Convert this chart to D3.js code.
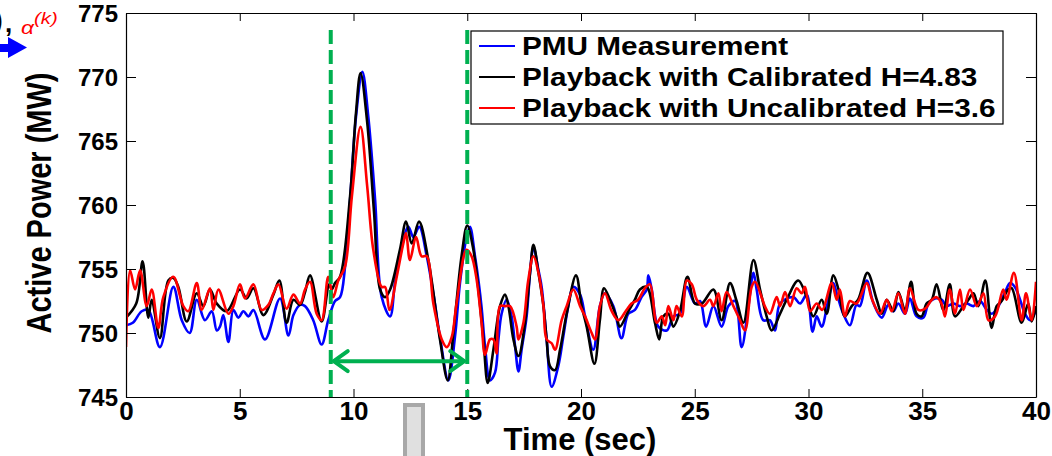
<!DOCTYPE html>
<html>
<head>
<meta charset="utf-8">
<script src="https://cdn.jsdelivr.net/npm/d3@7"></script>
<style>
  body { margin: 0; background: #fff; }
  svg { display: block; }
  text { font-family: "Liberation Sans", Arial, sans-serif; font-weight: bold; }
</style>
</head>
<body>
<div id="chart"></div>
<script>
// Axis ticks
const timeTicks = [0, 5, 10, 15, 20, 25, 30, 35, 40];
const powerTicks = [745, 750, 755, 760, 765, 770, 775];

// Series: [time (sec), active power (MW)]
const pmuMeasurement = [
  [0,750.6],[0.3,750.8],[0.69,751.7],[0.98,751.8],[1.49,748.9],[2.08,753.6],[2.45,751.0],[2.8,750.0],
  [3.11,752.6],[3.47,751.0],[3.77,751.7],[3.99,750.2],[4.13,750.5],[4.28,751.4],[4.5,749.3],[4.72,751.8],
  [4.94,751.2],[5.16,751.7],[5.38,751.3],[5.6,751.8],[6.11,749.5],[6.77,752.7],[7.14,749.8],[7.36,751.4],
  [7.65,752.2],[7.87,752.1],[8.23,751.0],[8.6,749.1],[8.89,751.0],[9.19,752.5],[9.41,752.8],[9.63,755.2],
  [9.85,760.4],[10.11,766.9],[10.39,770.4],[10.65,766.9],[10.95,760.4],[11.24,752.8],[11.61,751.3],[11.82,753.9],
  [12.04,756.0],[12.41,758.3],[12.63,757.5],[12.89,758.3],[13.22,756.0],[13.51,753.1],[13.8,749.7],[14.17,746.3],
  [14.46,749.7],[14.68,753.9],[14.97,757.5],[15.12,758.3],[15.34,756.0],[15.5,754.0],[15.63,752.0],[15.78,749.0],
  [16.0,746.3],[16.22,746.9],[16.37,749.5],[16.51,751.5],[16.73,752.6],[16.95,751.3],[17.1,749.0],[17.25,747.0],
  [17.39,748.7],[17.61,751.3],[17.76,754.7],[17.91,756.7],[18.13,754.9],[18.27,753.6],[18.49,749.5],[18.71,745.8],
  [19.0,747.4],[19.22,749.7],[19.44,752.1],[19.66,753.6],[19.96,753.0],[20.18,751.3],[20.54,748.7],[20.83,752.1],
  [21.05,753.1],[21.42,752.1],[21.78,749.6],[22.08,751.5],[22.37,751.8],[22.66,752.8],[22.89,753.4],[22.96,754.5],
  [23.11,753.4],[23.4,750.5],[23.77,750.2],[24.06,751.3],[24.35,751.5],[24.65,753.6],[25.01,752.3],[25.23,752.5],
  [25.5,750.5],[25.82,752.1],[26.18,750.5],[26.48,752.1],[26.77,752.5],[27.06,748.9],[27.36,752.1],[27.58,754.7],
  [27.72,753.4],[28.01,751.0],[28.3,751.0],[28.53,750.2],[28.75,752.3],[29.33,752.8],[29.63,752.3],[29.92,753.0],
  [30.18,750.1],[30.36,751.3],[30.58,750.5],[30.87,752.6],[31.09,753.9],[31.24,753.1],[31.53,751.5],[31.82,750.6],
  [32.11,752.2],[32.26,752.1],[32.56,754.1],[32.86,752.3],[33.22,751.2],[33.51,752.2],[33.73,751.7],[33.95,752.3],
  [34.24,751.5],[34.46,752.7],[34.75,751.3],[35.05,751.2],[35.27,752.3],[35.56,752.7],[35.85,752.6],[36.07,752.1],
  [36.37,752.3],[36.66,752.1],[36.95,752.3],[37.25,752.1],[37.54,752.5],[37.84,751.8],[38.05,751.5],[38.35,752.1],
  [38.64,753.2],[38.86,753.9],[39.07,753.6],[39.3,752.6],[39.52,751.5],[39.74,751.0],[40,751.8]
];

const calibratedPlayback = [
  [0,751.2],[0.45,752.3],[0.73,755.6],[0.98,751.2],[1.13,752.6],[1.49,749.6],[1.86,754.1],[2.08,754.3],
  [2.3,753.6],[2.67,750.9],[3.11,753.1],[3.4,752.1],[3.69,753.4],[3.99,752.3],[4.43,751.7],[5.01,753.4],
  [5.3,752.7],[5.6,753.5],[6.04,751.4],[6.48,753.0],[6.74,754.1],[7.06,750.8],[7.36,752.6],[7.65,752.2],
  [7.87,753.2],[8.09,754.5],[8.6,750.9],[8.93,753.8],[9.04,753.4],[9.19,753.9],[9.41,754.4],[9.85,760.7],
  [10.1,767.0],[10.31,770.3],[10.6,766.5],[10.9,759.5],[11.17,753.4],[11.39,752.8],[11.61,753.4],[12.04,756.5],
  [12.31,758.7],[12.56,757.0],[12.88,758.7],[13.29,755.7],[13.8,749.5],[14.14,746.3],[14.39,750.0],[14.75,756.0],
  [15.0,758.4],[15.27,756.5],[15.49,753.4],[15.71,749.5],[15.9,746.1],[16.15,748.7],[16.44,752.1],[16.66,753.0],
  [16.81,752.1],[17.03,749.5],[17.25,748.2],[17.54,750.8],[17.76,754.7],[17.91,756.9],[18.13,754.7],[18.35,752.1],
  [18.49,749.5],[18.64,747.4],[18.86,747.1],[19.08,748.7],[19.37,751.5],[19.78,754.5],[20.03,752.1],[20.25,750.5],
  [20.59,747.6],[20.83,751.0],[21.01,753.5],[21.27,752.6],[21.57,751.2],[21.71,750.5],[22.08,751.7],[22.37,752.6],
  [22.59,753.4],[22.89,753.6],[23.25,750.8],[23.44,749.5],[23.62,751.3],[23.84,751.5],[24.06,750.5],[24.35,751.7],
  [24.68,754.4],[25.01,752.3],[25.31,752.3],[25.82,753.4],[26.18,751.0],[26.55,753.9],[26.84,752.5],[27.14,750.8],
  [27.58,755.7],[27.87,753.4],[28.16,751.3],[28.38,750.2],[28.75,751.5],[29.04,752.6],[29.55,754.1],[29.92,752.8],
  [30.21,751.3],[30.58,752.6],[30.8,751.5],[31.09,754.5],[31.32,753.4],[31.6,751.3],[31.9,752.1],[32.18,752.6],
  [32.59,754.7],[33.0,752.6],[33.22,751.5],[33.44,752.6],[33.73,751.7],[33.95,753.2],[34.24,751.8],[34.51,754.0],
  [34.75,751.5],[34.97,751.3],[35.19,752.3],[35.42,752.6],[35.63,753.8],[35.93,751.8],[36.21,753.8],[36.44,751.3],
  [36.81,752.1],[37.03,752.6],[37.25,753.1],[37.47,752.1],[37.77,754.1],[38.05,750.4],[38.27,752.1],[38.49,752.5],
  [38.78,753.4],[38.93,753.5],[39.37,750.8],[39.66,752.3],[39.81,750.9],[40,752.1]
];

const uncalibratedPlayback = [
  [0,748.9],[0.18,754.9],[0.4,753.4],[0.62,754.9],[0.91,752.1],[1.13,753.4],[1.42,750.4],[1.64,752.8],
  [2.08,754.4],[2.52,752.1],[2.74,751.7],[3.11,753.9],[3.33,751.8],[3.69,753.5],[3.84,751.8],[4.06,753.4],
  [4.5,751.5],[4.72,752.1],[5.01,753.8],[5.23,752.7],[5.6,753.8],[5.96,751.8],[6.26,752.2],[6.48,753.1],
  [6.7,753.8],[7.06,751.9],[7.36,753.0],[7.65,752.3],[7.87,753.4],[8.09,754.0],[8.38,751.5],[8.6,751.0],
  [8.89,754.4],[9.11,752.8],[9.33,754.1],[9.63,755.2],[9.93,760.7],[10.31,766.1],[10.6,761.5],[10.87,756.5],
  [11.24,753.6],[11.39,753.6],[11.58,751.8],[11.9,754.4],[12.19,757.0],[12.31,757.8],[12.48,755.7],[12.75,757.5],
  [12.99,756.0],[13.22,756.0],[13.51,752.3],[13.88,749.5],[14.1,748.9],[14.32,749.7],[14.53,752.3],[14.97,756.5],
  [15.19,756.0],[15.41,754.2],[15.63,750.8],[15.78,748.3],[16.0,749.5],[16.15,749.5],[16.29,748.4],[16.44,752.1],
  [16.66,752.1],[16.88,752.1],[17.17,750.5],[17.25,749.5],[17.47,750.8],[17.68,754.1],[17.91,756.0],[18.13,754.7],
  [18.35,752.1],[18.49,749.5],[18.71,749.2],[18.86,748.7],[19.15,751.0],[19.37,752.1],[19.66,753.4],[19.96,752.1],
  [20.18,751.3],[20.47,750.0],[20.62,749.5],[20.83,752.1],[21.05,753.1],[21.35,751.7],[21.64,751.0],[22.0,751.8],
  [22.22,752.3],[22.51,752.6],[22.81,753.5],[23.03,753.8],[23.33,750.8],[23.55,751.3],[23.7,750.6],[23.84,752.1],
  [24.06,751.0],[24.2,752.1],[24.43,751.3],[24.65,754.1],[24.87,753.8],[25.09,752.6],[25.38,752.1],[25.67,752.6],
  [25.82,752.1],[26.04,753.1],[26.18,751.7],[26.4,753.2],[26.7,752.1],[26.99,751.0],[27.21,750.2],[27.5,753.6],
  [27.65,754.0],[27.94,752.8],[28.08,752.1],[28.3,751.5],[28.6,752.8],[28.75,752.1],[28.97,753.2],[29.19,752.1],
  [29.48,753.5],[29.7,753.1],[29.85,753.6],[30.07,751.7],[30.36,752.3],[30.6,751.8],[31.02,753.9],[31.24,752.6],
  [31.38,753.4],[31.6,751.3],[31.82,752.5],[32.11,752.3],[32.56,753.9],[32.78,752.7],[33.14,751.5],[33.44,752.6],
  [33.66,751.7],[33.95,753.1],[34.24,751.5],[34.46,753.5],[34.83,751.8],[35.13,751.9],[35.42,752.6],[35.63,752.8],
  [35.85,752.3],[36.0,751.3],[36.21,753.4],[36.44,751.5],[36.66,753.4],[36.81,751.8],[37.1,753.4],[37.4,752.1],
  [37.69,753.1],[37.91,751.0],[38.2,751.3],[38.56,753.4],[38.71,752.6],[39.03,754.7],[39.37,751.0],[39.56,753.1],
  [39.81,751.0],[40,754.0]
];

const seriesNames = ["PMU Measurement", "Playback with Calibrated H=4.83", "Playback with Uncalibrated H=3.6"];
const seriesColors = ["#0000ff", "#000000", "#ff0000"];

// Calibration window markers (sec) and arrow level (MW)
const windowStart = 9;
const windowEnd = 15;
const arrowLevel = 747.8;

const width = 1052;
const height = 456;
const margin = { top: 13, right: 16, bottom: 59, left: 126 };
const green = "#00b050";

const svg = d3.select("#chart").append("svg")
  .attr("width", width)
  .attr("height", height);

const x = d3.scaleLinear().domain([0, 40]).range([margin.left, width - margin.right]);
const y = d3.scaleLinear().domain([745, 775]).range([height - margin.bottom, margin.top]);

// Clip lines to the axes box
svg.append("clipPath").attr("id", "plot")
  .append("rect")
  .attr("x", x(0)).attr("y", y(775))
  .attr("width", x(40) - x(0)).attr("height", y(745) - y(775));

// Draw series lines (blue under black under red)
const line = d3.line()
  .x(d => x(d[0]))
  .y(d => y(d[1]))
  .curve(d3.curveCatmullRom.alpha(0.5));

const lines = svg.append("g").attr("clip-path", "url(#plot)");
[pmuMeasurement, calibratedPlayback, uncalibratedPlayback].forEach((data, i) => {
  lines.append("path")
    .datum(data)
    .attr("fill", "none")
    .attr("stroke", seriesColors[i])
    .attr("stroke-width", 2.6)
    .attr("stroke-linejoin", "round")
    .attr("d", line);
});

// Axes with MATLAB style inward ticks
const fmt = d3.format("d");
const xAxis = svg.append("g")
  .attr("transform", `translate(0,${y(745)})`)
  .call(d3.axisBottom(x).tickValues(timeTicks).tickFormat(fmt).tickSizeInner(-8).tickSizeOuter(0).tickPadding(5));
const yAxis = svg.append("g")
  .attr("transform", `translate(${x(0)},0)`)
  .call(d3.axisLeft(y).tickValues(powerTicks).tickFormat(fmt).tickSizeInner(-10).tickSizeOuter(0).tickPadding(8));
svg.append("g")
  .attr("transform", `translate(0,${y(775)})`)
  .call(d3.axisTop(x).tickValues(timeTicks).tickFormat("").tickSizeInner(-8).tickSizeOuter(0));
svg.append("g")
  .attr("transform", `translate(${x(40)},0)`)
  .call(d3.axisRight(y).tickValues(powerTicks).tickFormat("").tickSizeInner(-10).tickSizeOuter(0));

svg.selectAll(".domain").attr("stroke", "#000").attr("stroke-width", 1.2);
svg.selectAll(".tick line").attr("stroke", "#000").attr("stroke-width", 1);

xAxis.selectAll("text")
  .attr("fill", "#000")
  .style("font-family", "'Liberation Sans Narrow', 'Liberation Sans', Arial, sans-serif")
  .style("font-size", "26px");

yAxis.selectAll("text")
  .attr("fill", "#000")
  .style("font-size", "24px")
  .attr("dy", "0.36em");

// Axis titles
svg.append("text")
  .attr("x", 580)
  .attr("y", 450)
  .attr("text-anchor", "middle")
  .style("font-family", "'Liberation Sans Narrow', 'Liberation Sans', Arial, sans-serif")
  .style("font-size", "31px")
  .text("Time (sec)");

svg.append("text")
  .attr("transform", "translate(51,203) rotate(-90) scale(1,1.2)")
  .attr("text-anchor", "middle")
  .style("font-size", "29px")
  .text("Active Power (MW)");

// Calibration window: dashed green verticals and double arrow
[windowStart, windowEnd].forEach(t => {
  svg.append("line")
    .attr("x1", x(t)).attr("x2", x(t))
    .attr("y1", 30).attr("y2", y(745))
    .attr("stroke", green)
    .attr("stroke-width", 4)
    .attr("stroke-dasharray", "14,6");
});

const ay = y(arrowLevel);
const ax1 = x(windowStart) + 3;
const ax2 = x(windowEnd) - 3;
svg.append("line")
  .attr("x1", ax1).attr("x2", ax2).attr("y1", ay).attr("y2", ay)
  .attr("stroke", green).attr("stroke-width", 4);
svg.append("path")
  .attr("d", `M${ax1 + 14},${ay - 10}L${ax1},${ay}L${ax1 + 14},${ay + 10}M${ax2 - 14},${ay - 10}L${ax2},${ay}L${ax2 - 14},${ay + 10}`)
  .attr("fill", "none").attr("stroke", green).attr("stroke-width", 4)
  .attr("stroke-linecap", "round").attr("stroke-linejoin", "round");

// Legend
const legend = svg.append("g");
legend.append("rect")
  .attr("x", 471).attr("y", 31).attr("width", 532).attr("height", 93)
  .attr("fill", "#fff").attr("stroke", "#000").attr("stroke-width", 1.2);
seriesNames.forEach((name, i) => {
  const ry = 46 + i * 31;
  legend.append("line")
    .attr("x1", 479).attr("x2", 515).attr("y1", ry).attr("y2", ry)
    .attr("stroke", seriesColors[i]).attr("stroke-width", 2);
  legend.append("text")
    .attr("transform", `translate(522,${ry + 9}) scale(1.19,1)`)
    .style("font-size", "25px")
    .text(name);
});

// Leftovers from the cropped source figure
svg.append("text").attr("x", -6).attr("y", 29).style("font-size", "26px").text(")");
svg.append("text").attr("x", 5).attr("y", 32).style("font-size", "26px").text(",");
svg.append("text")
  .attr("transform", "translate(21,34) scale(1.2,1)")
  .style("font-size", "19px").style("font-style", "italic").style("font-weight", "normal")
  .attr("fill", "#ff0000").text("α");
svg.append("text")
  .attr("transform", "translate(34,24) scale(1.2,1)")
  .style("font-size", "17px").style("font-style", "italic").style("font-weight", "normal")
  .attr("fill", "#ff0000").text("(k)");
svg.append("path")
  .attr("d", "M0,44L8,44L8,37L27,47.5L8,58L8,52L0,52Z")
  .attr("fill", "#0000ff");
svg.append("rect")
  .attr("x", 405).attr("y", 405).attr("width", 18).attr("height", 60)
  .attr("fill", "#e0e0e0").attr("stroke", "#a8a8a8").attr("stroke-width", 4);
</script>
</body>
</html>
